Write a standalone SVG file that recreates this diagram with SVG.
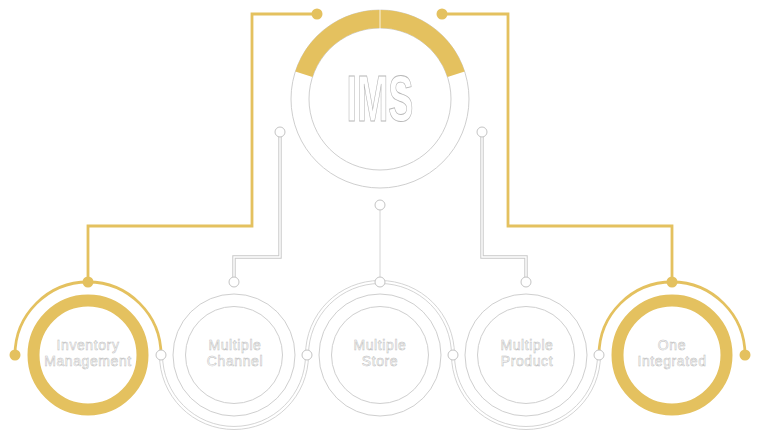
<svg xmlns="http://www.w3.org/2000/svg" width="759" height="435" viewBox="0 0 759 435">
<defs>
<style>
.gold{fill:none;stroke:#E4C15F;stroke-width:2.8}
.gdot{fill:#E4C15F}
.ring{fill:none;stroke:#cfcfcf;stroke-width:1}
.arc{fill:none;stroke:#cfcfcf;stroke-width:0.9}
.pin{fill:#fff;stroke:#c4c4c4;stroke-width:1}
.dbl{fill:none;stroke:#c8c8c8;stroke-width:3.4}
.dblin{fill:none;stroke:#fff;stroke-width:1.4}
.lbl{font-family:"Liberation Sans",Arial,sans-serif;font-size:14px;fill:#fff;stroke:#bdbdbd;stroke-width:0.5;text-anchor:middle;letter-spacing:0.6px}
.gring{fill:none;stroke:#E4C15F;stroke-width:12}
</style>
</defs>
<rect width="759" height="435" fill="#fff"/>

<g id="connectors">
  <path class="gold" d="M317,14 H252 V226 H88 V282"/>
  <path class="gold" d="M442,14 H508 V226 H672 V282"/>
  <path class="dbl" d="M280,133 V257 H234 V282"/>
  <path class="dblin" d="M280,133 V257 H234 V282"/>
  <path class="dbl" d="M482,133 V257 H526 V282"/>
  <path class="dblin" d="M482,133 V257 H526 V282"/>
  <path class="arc" d="M380,205 V282"/>
  <circle class="gdot" cx="317" cy="14" r="5.5"/>
  <circle class="gdot" cx="442" cy="14" r="5.5"/>
  <circle class="pin" cx="280" cy="132" r="5"/>
  <circle class="pin" cx="482" cy="132" r="5"/>
  <circle class="pin" cx="380" cy="205" r="5"/>
</g>

<g id="ims">
  <circle class="ring" cx="380" cy="99" r="89"/>
  <circle class="ring" cx="380" cy="99" r="71"/>
  <path d="M303.9,74.3 A80,80 0 0 1 456.1,74.3" fill="none" stroke="#E4C15F" stroke-width="18"/>
  <line x1="380" y1="9" x2="380" y2="29" stroke="#fff" stroke-width="0.8"/>
  <text x="380" y="121" font-family="Liberation Sans, Arial, sans-serif" font-weight="bold" font-size="64" textLength="67" lengthAdjust="spacingAndGlyphs" text-anchor="middle" fill="#fff" stroke="#b8b8b8" stroke-width="0.9">IMS</text>
</g>

<g id="node-inventory">
  <path class="gold" d="M15,355 A73,73 0 0 1 161,355"/>
  <circle class="gring" cx="88" cy="355" r="54.5"/>
  <circle class="gdot" cx="88" cy="282" r="5.5"/>
  <circle class="gdot" cx="15" cy="355" r="5.5"/>
  <text class="lbl" x="88" y="350">Inventory</text>
  <text class="lbl" x="88" y="366">Management</text>
</g>

<g id="node-channel">
  <path class="arc" d="M162.5,355 A71.5,71.5 0 0 0 305.5,355"/>
  <path class="arc" d="M159.5,355 A74.5,74.5 0 0 0 308.5,355"/>
  <circle class="ring" cx="234" cy="355" r="61"/>
  <circle class="ring" cx="234" cy="355" r="48.5"/>
  <circle class="pin" cx="234" cy="282" r="5"/>
  <text class="lbl" x="235" y="350">Multiple</text>
  <text class="lbl" x="235" y="366">Channel</text>
</g>

<g id="node-store">
  <path class="arc" d="M308.5,355 A71.5,71.5 0 0 1 451.5,355"/>
  <path class="arc" d="M305.5,355 A74.5,74.5 0 0 1 454.5,355"/>
  <circle class="ring" cx="380" cy="355" r="61"/>
  <circle class="ring" cx="380" cy="355" r="48.5"/>
  <circle class="pin" cx="380" cy="282" r="5"/>
  <text class="lbl" x="380" y="350">Multiple</text>
  <text class="lbl" x="380" y="366">Store</text>
</g>

<g id="node-product">
  <path class="arc" d="M454.5,355 A71.5,71.5 0 0 0 597.5,355"/>
  <path class="arc" d="M451.5,355 A74.5,74.5 0 0 0 600.5,355"/>
  <circle class="ring" cx="526" cy="355" r="61"/>
  <circle class="ring" cx="526" cy="355" r="48.5"/>
  <circle class="pin" cx="526" cy="282" r="5"/>
  <text class="lbl" x="527" y="350">Multiple</text>
  <text class="lbl" x="527" y="366">Product</text>
</g>

<g id="node-integrated">
  <path class="gold" d="M599,355 A73,73 0 0 1 745,355"/>
  <circle class="gring" cx="672" cy="355" r="54.5"/>
  <circle class="gdot" cx="672" cy="282" r="5.5"/>
  <circle class="gdot" cx="745" cy="355" r="5.5"/>
  <text class="lbl" x="672" y="350">One</text>
  <text class="lbl" x="672" y="366">Integrated</text>
</g>

<g id="junctions">
  <circle class="pin" cx="161" cy="355" r="5"/>
  <circle class="pin" cx="307" cy="355" r="5"/>
  <circle class="pin" cx="453" cy="355" r="5"/>
  <circle class="pin" cx="599" cy="355" r="5"/>
</g>
</svg>
